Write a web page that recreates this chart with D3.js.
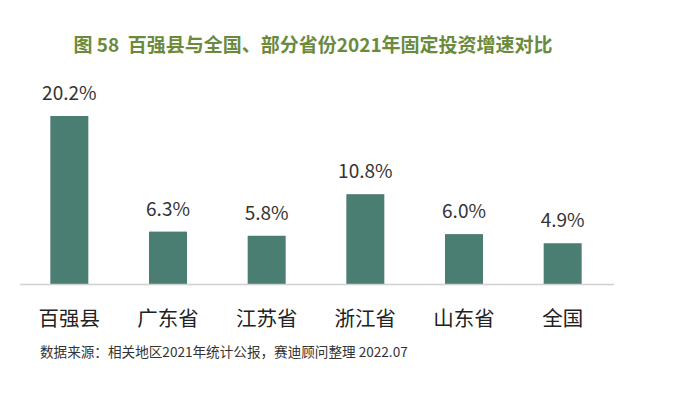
<!DOCTYPE html>
<html><head><meta charset="utf-8">
<script src="https://cdn.jsdelivr.net/npm/d3@7"></script>
<style>body{margin:0;background:#fff;} svg{display:block;font-family:"Noto Sans CJK SC","Noto Sans",sans-serif;}</style>
</head><body>
<svg id="c" width="700" height="393"></svg>
<script>
const categories = ["百强县","广东省","江苏省","浙江省","山东省","全国"];
const values = [20.2, 6.3, 5.8, 10.8, 6.0, 4.9];
const valueLabels = ["20.2%","6.3%","5.8%","10.8%","6.0%","4.9%"];
const title = "图 58  百强县与全国、部分省份2021年固定投资增速对比";
const source = "数据来源：相关地区2021年统计公报，赛迪顾问整理 2022.07";

const svg = d3.select("#c");
const baseY = 284;
const x = d3.scaleBand().domain(categories).range([20, 612]).paddingInner(0.615).paddingOuter(0.3075);
const y = d3.scaleLinear().domain([0, 20.2]).range([baseY, 116]);

svg.append("text").attr("x", 313).attr("y", 52).attr("text-anchor","middle")
  .style("white-space","pre").attr("xml:space","preserve")
  .attr("font-size", 19).attr("font-weight","bold").attr("fill","#6b8a3c").text(title);

svg.selectAll("rect.bar").data(values).join("rect").attr("class","bar")
  .attr("x",(d,i)=>x(categories[i])).attr("width",x.bandwidth())
  .attr("y",d=>y(d)).attr("height",d=>baseY-y(d)).attr("fill","#4b7e73");

svg.append("line").attr("x1",20).attr("x2",614).attr("y1",baseY+0.5).attr("y2",baseY+0.5)
  .attr("stroke","#d0d0d0").attr("stroke-width",1.5);

svg.selectAll("text.val").data(values).join("text").attr("class","val")
  .attr("x",(d,i)=>x(categories[i])+x.bandwidth()/2).attr("y",d=>y(d)-16)
  .attr("text-anchor","middle").attr("font-size",19).attr("fill","#333").text((d,i)=>valueLabels[i]);

const xAxis = svg.append("g").attr("transform",`translate(0,${baseY})`)
  .call(d3.axisBottom(x).tickSize(0).tickPadding(27));
xAxis.select(".domain").remove();
xAxis.selectAll("text").attr("font-size",20.5).attr("fill","#222").attr("font-family","\"Noto Sans CJK SC\",sans-serif");

svg.append("text").attr("x",40).attr("y",357).attr("font-size",13.6).attr("fill","#333").text(source);
</script>
</body></html>
